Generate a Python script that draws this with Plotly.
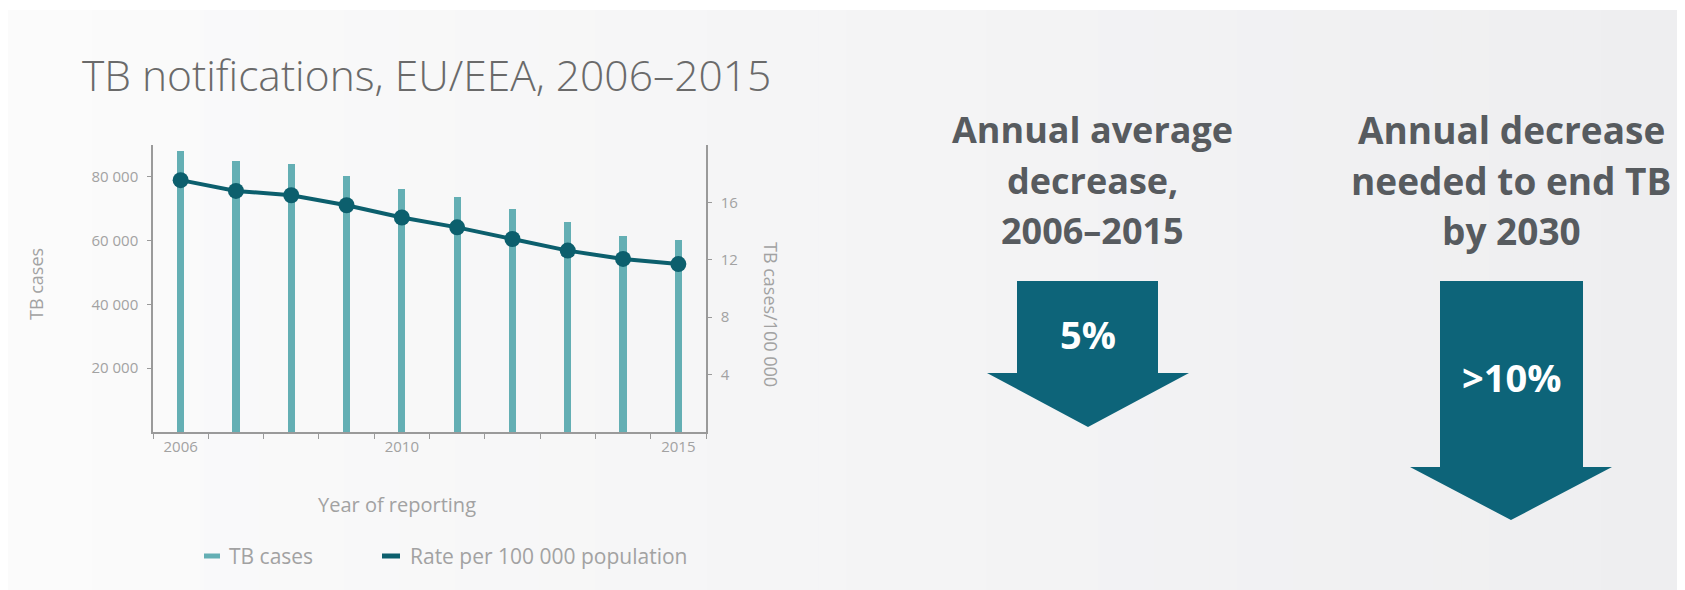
import plotly.graph_objects as go

# ---------------- data ----------------
years = [2006, 2007, 2008, 2009, 2010, 2011, 2012, 2013, 2014, 2015]
tb_cases = [88100, 85000, 84000, 80300, 76150, 73850, 69900, 65700, 61560, 60200]
rate_per_100k = [17.55, 16.8, 16.5, 15.8, 14.95, 14.26, 13.45, 12.64, 12.06, 11.7]

x_label_years = [2006, 2010, 2015]
left_tick_values = [20000, 40000, 60000, 80000]
right_tick_values = [4, 8, 12, 16]

chart_title = "TB notifications, EU/EEA, 2006–2015"
x_title = "Year of reporting"
left_title = "TB cases"
right_title = "TB cases/100 000"
legend_labels = ["TB cases", "Rate per 100 000 population"]

heading_left = ["Annual average", "decrease,", "2006–2015"]
heading_right = ["Annual decrease", "needed to end TB", "by 2030"]
arrow_labels = ["5%", ">10%"]

# ---------------- style ----------------
PAGE_W, PAGE_H = 1685, 590
OFF = 8  # default body margin of the page
W, H = PAGE_W - OFF, PAGE_H - OFF
BAR_COL = "#64afb4"
LINE_COL = "#0c5f6d"
ARROW_COL = "#0d6479"
AXIS_COL = "#9a9a9a"
LABEL_COL = "#a2a2a2"
HEAD_COL = "#575b5f"
TITLE_COL = "#6a6a6a"
FONT = "Open Sans, Lato, DejaVu Sans, sans-serif"


def px(x):
    return (x - OFF) / W


def py(y):
    return 1 - (y - OFF) / H


fig = go.Figure()

fig.add_trace(go.Bar(
    x=years, y=tb_cases, name=legend_labels[0], width=0.13,
    marker=dict(color=BAR_COL, line=dict(width=0)),
    yaxis="y", showlegend=False,
))
fig.add_trace(go.Scatter(
    x=years, y=rate_per_100k, name=legend_labels[1], mode="lines+markers",
    line=dict(color=LINE_COL, width=4),
    marker=dict(color=LINE_COL, size=16),
    yaxis="y2", showlegend=False,
))

shapes = []
# background gradient (left lighter, right greyer)
N = 60
c0 = (251, 251, 251)
c1 = (238, 238, 240)
for i in range(N):
    t = i / (N - 1)
    c = tuple(round(c0[k] + (c1[k] - c0[k]) * t) for k in range(3))
    shapes.append(dict(type="rect", xref="paper", yref="paper",
                       x0=i / N, x1=(i + 1) / N + 0.002, y0=0, y1=py(10),
                       fillcolor="rgb(%d,%d,%d)" % c, line=dict(width=0),
                       layer="below"))
shapes.append(dict(type="rect", xref="paper", yref="paper", x0=0, x1=1,
                   y0=py(10), y1=1, fillcolor="white", line=dict(width=0),
                   layer="below"))


def arrow_path(x0, x1, top, head_y, hx0, hx1, tip_x, tip_y):
    pts = [(x0, top), (x1, top), (x1, head_y), (hx1, head_y), (tip_x, tip_y),
           (hx0, head_y), (x0, head_y)]
    return "M " + " L ".join("%.5f,%.5f" % (px(a), py(b)) for a, b in pts) + " Z"


shapes.append(dict(type="path", xref="paper", yref="paper",
                   path=arrow_path(1017, 1158, 281, 373, 987, 1189, 1088, 427),
                   fillcolor=ARROW_COL, line=dict(width=0)))
shapes.append(dict(type="path", xref="paper", yref="paper",
                   path=arrow_path(1440, 1583, 281, 467, 1410, 1612, 1511, 520),
                   fillcolor=ARROW_COL, line=dict(width=0)))

# legend swatches
shapes.append(dict(type="line", xref="paper", yref="paper",
                   x0=px(204), x1=px(220), y0=py(556), y1=py(556),
                   line=dict(color=BAR_COL, width=5)))
shapes.append(dict(type="line", xref="paper", yref="paper",
                   x0=px(382), x1=px(400), y0=py(556), y1=py(556),
                   line=dict(color=LINE_COL, width=5)))

annotations = []


def ann(text, x, y, size, color, xanchor="center", yanchor="middle",
        weight="normal", angle=0):
    annotations.append(dict(text=text, xref="paper", yref="paper", x=px(x),
                            y=py(y), xanchor=xanchor, yanchor=yanchor,
                            showarrow=False, textangle=angle,
                            font=dict(family=FONT, size=size, color=color,
                                      weight=weight)))


ann(chart_title, 80, 74, 42.5, TITLE_COL, xanchor="left", weight=300)
ann(x_title, 397, 504, 20, LABEL_COL)
ann(left_title, 36, 284, 18, LABEL_COL, angle=-90)
ann(right_title, 771, 314, 18, LABEL_COL, angle=90)
ann(legend_labels[0], 227, 556, 21, LABEL_COL, xanchor="left")
ann(legend_labels[1], 408, 556, 21, LABEL_COL, xanchor="left")

for i, line in enumerate(heading_left):
    ann(line, 1092, 129 + 51 * i, 36, HEAD_COL, weight="bold")
for i, line in enumerate(heading_right):
    ann(line, 1511, 129 + 51 * i, 37, HEAD_COL, weight="bold")

ann(arrow_labels[0], 1088, 334, 38, "white", weight="bold")
ann(arrow_labels[1], 1511, 377, 38, "white", weight="bold")

xd = [px(153), px(706)]
yd = [py(432), py(145)]

fig.update_layout(
    width=W, height=H,
    margin=dict(l=0, r=0, t=0, b=0),
    paper_bgcolor="#f4f4f5",
    plot_bgcolor="rgba(0,0,0,0)",
    separators=". ",
    showlegend=False,
    bargap=0,
    font=dict(family=FONT, color=LABEL_COL),
    xaxis=dict(
        domain=xd, range=[2005.5, 2015.5],
        tickmode="array", tickvals=x_label_years, ticks="",
        tickfont=dict(size=15, color=LABEL_COL),
        showline=True, linecolor=AXIS_COL, linewidth=1.5,
        showgrid=False, zeroline=False,
        minor=dict(ticks="outside", tick0=2005.5, dtick=1, ticklen=5,
                   tickcolor=AXIS_COL, tickwidth=1.2, showgrid=False),
        fixedrange=True,
    ),
    yaxis=dict(
        domain=yd, range=[0, 90000],
        tickmode="array", tickvals=left_tick_values, tickformat=",d",
        ticks="outside", ticklen=4, tickcolor=AXIS_COL,
        tickfont=dict(size=15, color=LABEL_COL),
        showline=True, linecolor=AXIS_COL, linewidth=1.5,
        showgrid=False, zeroline=False, ticklabelstandoff=6,
    ),
    yaxis2=dict(
        domain=yd, range=[0, 20], overlaying="y", side="right",
        anchor="x",
        tickmode="array", tickvals=right_tick_values,
        ticks="outside", ticklen=4, tickcolor=AXIS_COL,
        tickfont=dict(size=15, color=LABEL_COL),
        showline=True, linecolor=AXIS_COL, linewidth=1.5,
        showgrid=False, zeroline=False, ticklabelstandoff=6,
    ),
    shapes=shapes,
    annotations=annotations,
)

fig.write_html("out.html")
